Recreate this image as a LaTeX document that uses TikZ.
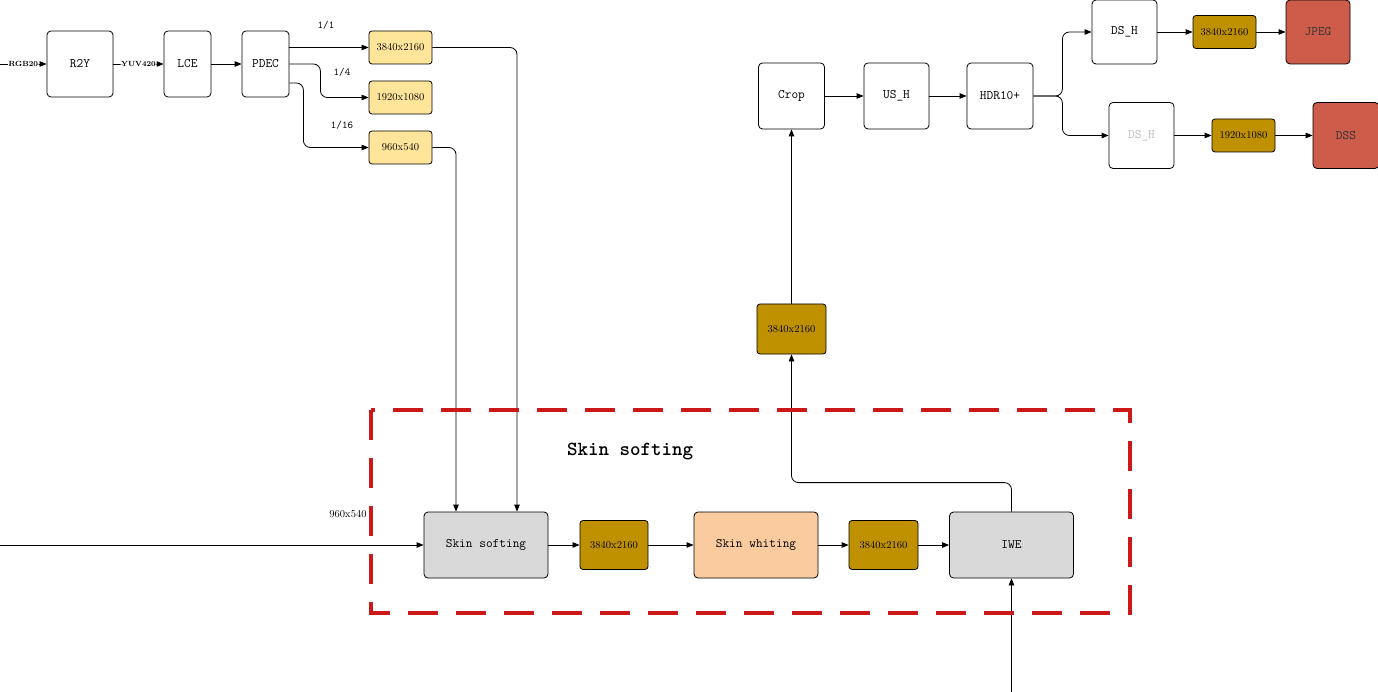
\documentclass[tikz,border=0pt]{standalone}
\usepackage{tikz}
\usetikzlibrary{arrows.meta,positioning}
\definecolor{ispyellow}{RGB}{255,229,153}
\definecolor{ispgold}{RGB}{191,144,0}
\definecolor{ispgray}{RGB}{217,217,217}
\definecolor{isppeach}{RGB}{249,203,158}
\definecolor{ispred}{RGB}{205,92,74}
\definecolor{ispdash}{RGB}{204,24,24}
\tikzset{
  blk/.style={draw,rounded corners=4pt,minimum width=66pt,minimum height=66pt,inner sep=0pt,font=\fontsize{13}{15}\selectfont\ttfamily},
  wide/.style={blk,fill=ispgray,minimum width=124pt},
  resy/.style={draw,rounded corners=3pt,fill=ispyellow,minimum width=63pt,minimum height=33pt,inner sep=0pt,font=\fontsize{10.5}{12}\selectfont},
  resg/.style={resy,fill=ispgold},
  sink/.style={blk,fill=ispred,text=black!80},
  arr/.style={-{Triangle[length=7pt,width=5.5pt]},rounded corners=7pt},
  tag/.style={font=\fontsize{10.5}{12}\selectfont\ttfamily},
  inlbl/.style={midway,fill=white,inner sep=0.5pt,font=\fontsize{7.5}{8}\selectfont\bfseries},
}
\begin{document}
\begin{tikzpicture}[x=1pt,y=-1pt,line width=0.8pt]
\useasboundingbox (0,0) rectangle (1378,692);
% Front chain
\coordinate (src) at (0,64);
\node[blk] (r2y) at (80,64) {R2Y};
\node[blk,minimum width=47pt] (lce) at (187.5,64) {LCE};
\node[blk,minimum width=47pt] (pdec) at (265.5,64) {PDEC};
\draw[arr] (src) -- (r2y.west) node[inlbl] {RGB20};
\draw[arr] (r2y.east) -- (lce.west) node[inlbl] {YUV420};
\draw[arr] (lce) -- (pdec);
% PDEC outputs
\node[resy] (res1) at (400.5,47.5) {3840x2160};
\node[resy] (res2) at (400.5,97.5) {1920x1080};
\node[resy] (res3) at (400.5,147.5) {960x540};
\draw[arr] (pdec.east |- res1) -- (res1.west);
\draw[arr] (pdec.east) -- ++(31,0) |- (res2.west);
\draw[arr] ([yshift=-19pt]pdec.east) -- ++(14,0) |- (res3.west);
\node[tag] at (326,25) {1/1};
\node[tag] at (342,72) {1/4};
\node[tag] at (342,125) {1/16};
% Skin softing chain
\node[wide] (soft) at (486,545) {Skin softing};
\node[resg,minimum width=68pt,minimum height=49pt] (res5) at (614,545) {3840x2160};
\node[wide,fill=isppeach] (white) at (756,545) {Skin whiting};
\node[resg,minimum width=69pt,minimum height=49pt] (res6) at (883.5,545) {3840x2160};
\node[wide] (iwe) at (1011.5,545) {IWE};
\coordinate (main) at (0,545);
\coordinate (iwein) at (1011.5,692);
\draw[arr] (main) -- (soft.west);
\node[font=\fontsize{10.5}{12}\selectfont] at (348,514) {960x540};
\draw[arr] (res1.east) -| ([xshift=31pt]soft.north);
\draw[arr] (res3.east) -| ([xshift=-30pt]soft.north);
\draw[arr] (soft) -- (res5);
\draw[arr] (res5) -- (white);
\draw[arr] (white) -- (res6);
\draw[arr] (res6) -- (iwe);
\draw[arr] (iwein) -- (iwe.south);
% Output chain
\node[resg,minimum width=69pt,minimum height=50pt] (res4) at (791.5,329) {3840x2160};
\node[blk] (crop) at (791.5,96) {Crop};
\node[blk,minimum width=65pt] (ush) at (896.5,96) {US\_H};
\node[blk] (hdr) at (1000,96) {HDR10+};
\node[blk,minimum width=65pt,minimum height=64pt] (dsh1) at (1124.5,32) {DS\_H};
\node[resg] (res7) at (1224.5,32) {3840x2160};
\node[sink,minimum width=64pt,minimum height=64pt] (jpeg) at (1318,32) {JPEG};
\node[blk,minimum width=65pt,text=black!25] (dsh2) at (1141.5,135.5) {DS\_H};
\node[resg] (res8) at (1243.5,135.5) {1920x1080};
\node[sink] (dss) at (1346,135.5) {DSS};
\draw[arr] (iwe.north) -- ++(0,-29) -| (res4.south);
\draw[arr] (res4) -- (crop);
\draw[arr] (crop) -- (ush);
\draw[arr] (ush) -- (hdr);
\draw[arr] (hdr.east) -- ++(29,0) |- (dsh1.west);
\draw[arr] (hdr.east) -- ++(29,0) |- (dsh2.west);
\draw[arr] (dsh1) -- (res7);
\draw[arr] (res7) -- (jpeg);
\draw[arr] (dsh2) -- (res8);
\draw[arr] (res8) -- (dss);
% Dashed group
\draw[ispdash,line width=3.5pt,dash pattern=on 30pt off 18pt] (371,410) rectangle (1130,613);
\node[font=\fontsize{20}{22}\selectfont\ttfamily\bfseries] (grp) at (630,452) {Skin softing};
\end{tikzpicture}
\end{document}
